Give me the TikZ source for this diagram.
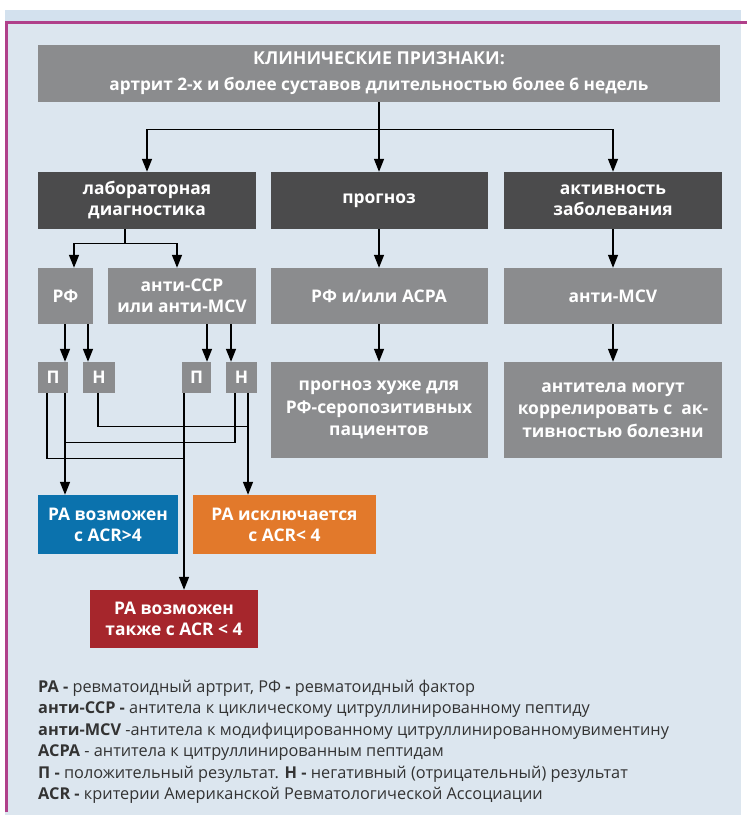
\documentclass[tikz,border=0pt]{standalone}
\usepackage{fontspec}
\setmainfont{Open Sans}
\newfontfamily\legfont{Open Sans}
\usetikzlibrary{arrows.meta,calc}
\definecolor{bgblue}{HTML}{DCE6EF}
\definecolor{bandblue}{HTML}{D3E1EE}
\definecolor{frame}{HTML}{B0408A}
\definecolor{lgray}{HTML}{8B8C8E}
\definecolor{dgray}{HTML}{4B4B4C}
\definecolor{rablue}{HTML}{0B72AD}
\definecolor{raorange}{HTML}{E2792B}
\definecolor{rared}{HTML}{A6262C}
\definecolor{legtext}{HTML}{333333}
\tikzset{
  box/.style={draw=none,inner sep=0pt,align=center,text=white,font=\fontsize{17.4}{21}\selectfont\bfseries},
  lbox/.style={box,fill=lgray},
  dbox/.style={box,fill=dgray},
  pn/.style={lbox,minimum width=30pt,minimum height=31pt},
  arr/.style={line width=1.3pt,-{Triangle[length=13pt,width=10pt]}},
  ln/.style={line width=1.3pt},
  legline/.style={anchor=west,inner sep=0pt,text=legtext,font=\legfont\fontsize{16.3}{17}\selectfont}
}
\begin{document}
\begin{tikzpicture}[x=1pt,y=-1pt]
\useasboundingbox (0,0) rectangle (747,823);
\fill[white] (0,0) rectangle (747,823);
\fill[bandblue] (5,10) rectangle (741,22);
\fill[bgblue] (5,22) rectangle (741,815);
\draw[frame,line width=2.5pt] (6.5,812) -- (6.5,22.5) -- (747,22.5);
% boxes
\node[lbox,minimum width=682pt,minimum height=57pt,font=\fontsize{17.2}{26}\selectfont\bfseries] (top) at (379,73.5) {{\fontsize{17.8}{26}\selectfont КЛИНИЧЕСКИЕ ПРИЗНАКИ:}\\артрит 2-х и более суставов длительностью более 6 недель};
\node[dbox,minimum width=218pt,minimum height=57pt] (lab) at (147,200.5) {лабораторная\\диагностика};
\node[dbox,minimum width=217pt,minimum height=57pt] (prog) at (379,200.5) {прогноз};
\node[dbox,minimum width=218pt,minimum height=57pt] (act) at (613,200.5) {активность\\заболевания};
\node[lbox,minimum width=55pt,minimum height=56pt] (rf) at (65.5,296) {РФ};
\node[lbox,minimum width=148pt,minimum height=56pt] (ccp) at (182,296) {анти-CCP\\или анти-MCV};
\node[lbox,minimum width=217pt,minimum height=56pt] (rfacpa) at (379,296) {РФ и/или ACPA};
\node[lbox,minimum width=218pt,minimum height=56pt] (mcv) at (613,296) {анти-MCV};
\node[lbox,minimum width=217pt,minimum height=96pt,font=\fontsize{17.4}{22.5}\selectfont\bfseries] (worse) at (379,410) {прогноз хуже для\\РФ-серопозитивных\\пациентов};
\node[lbox,minimum width=218pt,minimum height=96pt,font=\fontsize{17.4}{22.5}\selectfont\bfseries] (corr) at (613,410) {антитела могут\\коррелировать с\ \ ак-\\тивностью болезни};
\node[pn] (P1) at (53,377.5) {П};
\node[pn,minimum width=32pt] (N1) at (99,377.5) {Н};
\node[pn,minimum width=29pt] (P2) at (196.5,377.5) {П};
\node[pn,minimum width=31pt] (N2) at (241.5,377.5) {Н};
\node[box,fill=rablue,minimum width=140pt,minimum height=59pt] (blue) at (108,524.5) {РА возможен\\с ACR>4};
\node[box,fill=raorange,minimum width=183pt,minimum height=59pt] (orange) at (284.5,524.5) {РА исключается\\с ACR< 4};
\node[box,fill=rared,minimum width=168pt,minimum height=58pt] (red) at (174,619) {РА возможен\\также с ACR < 4};
% connectors top level
\coordinate (j1) at ($(top.south)+(0,27)$);
\draw[ln] (top.south) -- (j1);
\draw[arr] (j1) -| (lab.north);
\draw[arr] (j1) -| (act.north);
\draw[arr] (j1) -- (prog.north);
\coordinate (j2) at ($(lab.south)+(-22,14)$);
\draw[ln] ($(lab.south)+(-22,0)$) -- (j2);
\draw[arr] (j2) -| ($(rf.north)+(8.5,0)$);
\draw[arr] (j2) -| ($(ccp.north)+(-5,0)$);
\draw[arr] (prog.south) -- (rfacpa.north);
\draw[arr] (rfacpa.south) -- (worse.north);
\draw[arr] (act.south) -- (mcv.north);
\draw[arr] (mcv.south) -- (corr.north);
% into P/N
\draw[arr] ($(rf.south)+(-0.5,0)$) -- ($(P1.north)+(12,0)$);
\draw[arr] ($(rf.south)+(22.5,0)$) -- ($(N1.north)+(-11,0)$);
\draw[arr] ($(ccp.south)+(25,0)$) -- ($(P2.north)+(10.5,0)$);
\draw[arr] ($(ccp.south)+(49,0)$) -- ($(N2.north)+(-10.5,0)$);
% out of P/N
\coordinate (jr) at ($(P2.south)+(-12.5,65)$);
\coordinate (jo) at ($(N2.south)+(6.5,33)$);
\coordinate (jb) at ($(P1.south)+(12,49)$);
\draw[arr] ($(P1.south)+(12,0)$) -- ($(blue.north)+(-43,0)$);
\draw[ln] ($(P1.south)+(-6,0)$) |- (jr);
\draw[arr] ($(P2.south)+(-12.5,0)$) -- ($(red.north)+(10,0)$);
\draw[ln] ($(N1.south)+(-1,0)$) |- (jo);
\draw[arr] ($(N2.south)+(6.5,0)$) -- ($(orange.north)+(-36.5,0)$);
\draw[ln] ($(N2.south)+(-6.5,0)$) |- (jb);
% legend
\node[legline] (l1) at (38,688) {\textbf{РА -} ревматоидный артрит, РФ \textbf{-} ревматоидный фактор};
\node[legline] (l2) at (38,709.5) {\textbf{анти-CCP -} антитела к циклическому цитруллинированному пептиду};
\node[legline] (l3) at (38,731) {\textbf{анти-MCV} -антитела к модифицированному цитруллинированномувиментину};
\node[legline] (l4) at (38,752.5) {\textbf{ACPA} - антитела к цитруллинированным пептидам};
\node[legline] (l5) at (38,774) {\textbf{П -} положительный результат. \textbf{Н -} негативный (отрицательный) результат};
\node[legline] (l6) at (38,795.5) {\textbf{ACR -} критерии Американской Ревматологической Ассоциации};
\end{tikzpicture}
\end{document}
